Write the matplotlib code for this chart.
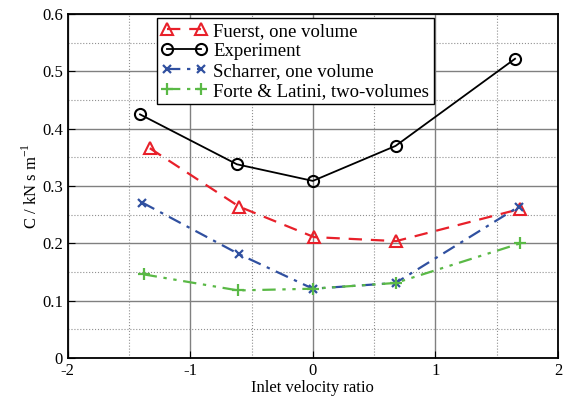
import numpy as np
import matplotlib.pyplot as plt

plt.rcParams['font.family'] = ['Liberation Serif', 'DejaVu Serif']
plt.rcParams['mathtext.fontset'] = 'custom'
plt.rcParams['mathtext.rm'] = 'Liberation Serif'

# data
x_exp = [-1.41, -0.62, 0.0, 0.675, 1.65]
y_exp = [0.425, 0.338, 0.309, 0.370, 0.522]

x_fue = [-1.33, -0.60, 0.01, 0.68, 1.69]
y_fue = [0.366, 0.264, 0.211, 0.204, 0.260]

x_sch = [-1.39, -0.60, 0.0, 0.675, 1.68]
y_sch = [0.271, 0.181, 0.121, 0.131, 0.264]

x_for = [-1.38, -0.61, 0.0, 0.675, 1.69]
y_for = [0.146, 0.118, 0.121, 0.131, 0.200]

xticks = [-2, -1, 0, 1, 2]
xticklabels = ['-2', '-1', '0', '1', '2']
yticks = [0, 0.1, 0.2, 0.3, 0.4, 0.5, 0.6]
yticklabels = ['0', '0.1', '0.2', '0.3', '0.4', '0.5', '0.6']

red = '#e8202a'
blue = '#3050a0'
green = '#5ab946'

fig = plt.figure(figsize=(5.74, 4.01), dpi=100)
ax = fig.add_axes([0.118, 0.107, 0.854, 0.858])

ax.plot(x_fue, y_fue, color=red, ls=(0, (6, 4)), lw=1.6, marker='^', ms=9,
        mfc='none', mec=red, mew=1.5, label='Fuerst, one volume')
ax.plot(x_exp, y_exp, color='k', ls='-', lw=1.3, marker='o', ms=8,
        mfc='none', mec='k', mew=1.5, label='Experiment')
ax.plot(x_sch, y_sch, color=blue, ls=(0, (6, 3, 1.5, 3)), lw=1.6, marker='x', ms=6,
        mew=1.6, label='Scharrer, one volume')
ax.plot(x_for, y_for, color=green, ls=(0, (6, 3, 1.5, 3, 1.5, 3)), lw=1.6, marker='+', ms=8,
        mew=1.6, label='Forte & Latini, two-volumes')

ax.set_xlim(-2, 2)
ax.set_ylim(0, 0.6)
ax.set_xticks(xticks)
ax.set_xticklabels(xticklabels)
ax.set_xticks([-1.5, -0.5, 0.5, 1.5], minor=True)
ax.set_yticks(yticks)
ax.set_yticklabels(yticklabels)
ax.set_yticks([0.05, 0.15, 0.25, 0.35, 0.45, 0.55], minor=True)
ax.grid(which='major', color='#808080', ls='-', lw=1.0)
ax.grid(which='minor', color='#909090', ls=':', lw=0.8)
ax.set_axisbelow(True)
ax.tick_params(which='both', direction='in', labelsize=12, length=5)
ax.tick_params(which='minor', length=0)
for s in ax.spines.values():
    s.set_linewidth(1.3)

ax.set_xlabel('Inlet velocity ratio', fontsize=12, labelpad=1)
ax.set_ylabel(r'C / kN s m$^{-1}$', fontsize=12, labelpad=1)

leg = ax.legend(loc='upper left', bbox_to_anchor=(0.182, 0.988), numpoints=2,
                fontsize=13.5, frameon=True, fancybox=False, framealpha=1,
                edgecolor='k', handlelength=2.4, handletextpad=0.35,
                borderpad=0.25, labelspacing=0.15, borderaxespad=0)
leg.get_frame().set_linewidth(1.0)

fig.savefig('out.png', dpi=100)
